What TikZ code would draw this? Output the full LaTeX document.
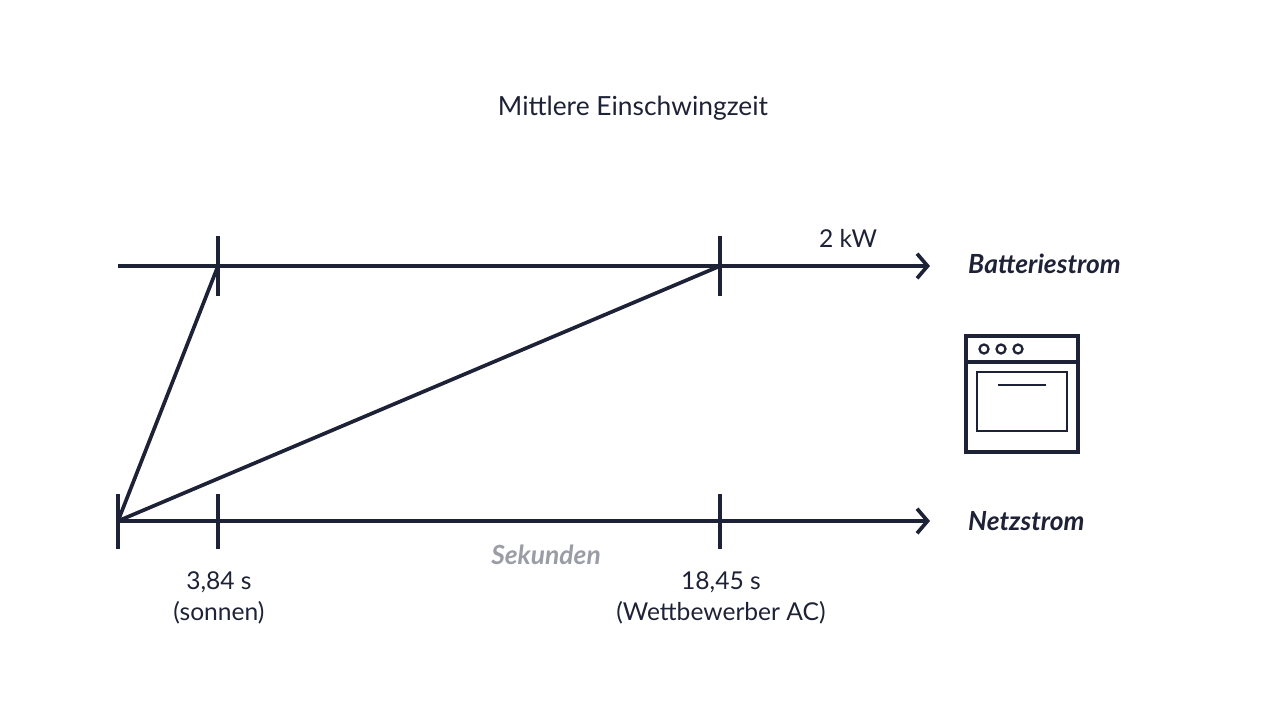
\documentclass[tikz,border=0pt]{standalone}
\usepackage{fontspec}
\setmainfont{Lato}
\usetikzlibrary{arrows.meta}
\definecolor{ink}{HTML}{1E2236}
\definecolor{greytext}{HTML}{9A9CA6}

\begin{document}
\begin{tikzpicture}[x=0.02cm,y=-0.02cm,
	axis/.style={ink,line width=2.1pt,-{Straight Barb[length=6pt,width=14pt,line width=2.1pt]}},
	tick/.style={ink,line width=2.1pt},
	lbl/.style={text=ink,font=\fontsize{14}{18}\selectfont,align=center},
	seriesname/.style={text=ink,font=\fontsize{15}{18}\selectfont\bfseries\itshape}]
		\useasboundingbox (0,0) rectangle (1267,713);
		\node[lbl,font=\fontsize{15}{18}\selectfont] (title) at (633,108) {Mittlere Einschwingzeit};
		% axes
		\coordinate (t0) at (118,266); \coordinate (t1) at (930,266);
		\coordinate (b0) at (118,521); \coordinate (b1) at (930,521);
		\draw[axis] (t0) -- (t1);
		\draw[axis] (b0) -- (b1);
		\foreach \x in {218,720}
		\draw[tick] (\x,236) -- (\x,296);
		\foreach \x in {118,218,720}
		\draw[tick] (\x,494) -- (\x,549);
		\coordinate (s1) at (218,266); \coordinate (s2) at (720,266);
		\draw[tick] (b0) -- (s1);
		\draw[tick] (b0) -- (s2);
		\node[lbl] (kw) at (848,238) {2 kW};
		\node[seriesname,anchor=west] (bat) at (962,264) {Batteriestrom};
		\node[seriesname,anchor=west] (netz) at (962,521) {Netzstrom};
		\node[seriesname,text=greytext] (sek) at (546,555) {Sekunden};
		\node[lbl] (son) at (219,598) {3,84 s\\(sonnen)};
		\node[lbl] (wett) at (721,598) {18,45 s\\(Wettbewerber AC)};
		% oven
		\draw[ink,line width=1.8pt] (966,336) rectangle (1078,452);
		\draw[ink,line width=1.8pt] (966,362) -- (1078,362);
		\foreach \x in {984,1001,1018}
		\draw[ink,line width=1.3pt] (\x,349) circle (4.5);
		\draw[ink,line width=1.3pt] (977,372) rectangle (1067,431);
		\draw[ink,line width=1.3pt] (998,385) -- (1046,385);
\end{tikzpicture}
\end{document}
